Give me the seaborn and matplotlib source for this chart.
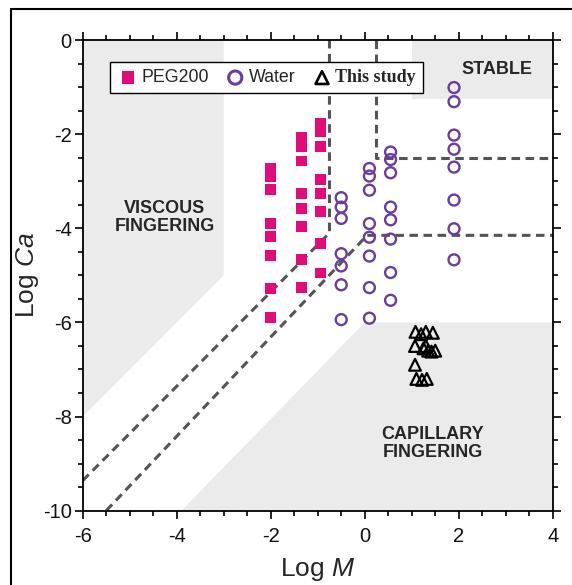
import numpy as np
import pandas as pd
import matplotlib
matplotlib.use("Agg")
import matplotlib.pyplot as plt
import seaborn as sns
from matplotlib.patches import Polygon
from matplotlib.lines import Line2D
from matplotlib.ticker import MultipleLocator

# PEG200 (squares), three columns of log M
peg_x = [-2.0, -2.0, -2.0, -2.0, -2.0, -2.0, -2.0, -2.0,
         -1.35, -1.35, -1.35, -1.35, -1.35, -1.35, -1.35, -1.35,
         -0.95, -0.95, -0.95, -0.95, -0.95, -0.95, -0.95, -0.95]
peg_y = [-2.72, -2.89, -3.17, -3.89, -4.17, -4.57, -5.27, -5.89,
         -2.08, -2.27, -2.57, -3.26, -3.58, -3.96, -4.66, -5.26,
         -1.77, -1.95, -2.26, -2.96, -3.26, -3.65, -4.33, -4.95]

# Water (open circles)
water_x = [-0.5, -0.5, -0.5, -0.5, -0.5, -0.5, -0.5,
           0.1, 0.1, 0.1, 0.1, 0.1, 0.1, 0.1, 0.1,
           0.55, 0.55, 0.55, 0.55, 0.55, 0.55, 0.55, 0.55,
           1.9, 1.9, 1.9, 1.9, 1.9, 1.9, 1.9, 1.9]
water_y = [-3.35, -3.55, -3.79, -4.54, -4.80, -5.20, -5.94,
           -2.73, -2.89, -3.19, -3.90, -4.19, -4.59, -5.26, -5.91,
           -2.38, -2.54, -2.82, -3.55, -3.82, -4.23, -4.94, -5.53,
           -1.01, -1.31, -2.02, -2.32, -2.70, -3.40, -4.01, -4.67]

# This study (open triangles)
study_x = [1.08, 1.2, 1.3, 1.45, 1.07, 1.25, 1.3, 1.35, 1.42, 1.5, 1.07, 1.1, 1.22, 1.32]
study_y = [-6.2, -6.25, -6.2, -6.22, -6.5, -6.55, -6.5, -6.6, -6.62, -6.6, -6.9, -7.2, -7.22, -7.2]

# regime fields
viscous_region = [(-6, 0), (-3, 0), (-3, -5), (-6, -8)]
stable_region = [(1.0, 0), (4, 0), (4, -1.25), (1.0, -1.25)]
capillary_region = [(4, -6), (0, -6), (-3.9, -10), (4, -10)]

# dashed boundaries
bound1_x = [-6, -0.75, -0.75]
bound1_y = [-9.36, -4.1, 0]
bound2_x = [0.24, 0.24, 4]
bound2_y = [0, -2.5, -2.5]
bound3_x = [-5.5, 0.05, 4]
bound3_y = [-10, -4.15, -4.15]

sns.set_theme(style="ticks")
plt.rcParams['font.family'] = ['Liberation Sans', 'DejaVu Sans']
plt.rcParams['axes.unicode_minus'] = False
plt.rcParams['mathtext.fontset'] = 'custom'
plt.rcParams['mathtext.rm'] = 'Liberation Sans'
plt.rcParams['mathtext.it'] = 'Liberation Sans:italic'

pink = '#e30b78'
purple = '#6a3d9e'
gray = '#ebebeb'
dash = '#555555'

fig = plt.figure(figsize=(5.72, 5.85), dpi=100)
ax = fig.add_axes([0.1446, 0.127, 0.8217, 0.8046])

for reg in [viscous_region, stable_region, capillary_region]:
    ax.add_patch(Polygon(reg, closed=True, facecolor=gray, edgecolor='none', zorder=0))

for bx, by in [(bound1_x, bound1_y), (bound2_x, bound2_y), (bound3_x, bound3_y)]:
    ax.plot(bx, by, color=dash, lw=2.2, ls=(0, (2.8, 1.8)), zorder=1)

peg = pd.DataFrame({'M': peg_x, 'Ca': peg_y})
water = pd.DataFrame({'M': water_x, 'Ca': water_y})
study = pd.DataFrame({'M': study_x, 'Ca': study_y})

sns.scatterplot(data=peg, x='M', y='Ca', marker='s', s=62, color=pink,
                edgecolor='none', label='PEG200', ax=ax, zorder=3)
sns.scatterplot(data=water, x='M', y='Ca', marker='o', s=62, fc='none',
                ec=purple, linewidth=1.7, label='Water', ax=ax, zorder=3)
sns.scatterplot(data=study, x='M', y='Ca', marker='^', s=72, fc='none',
                ec='black', linewidth=1.6, label='This study', ax=ax, zorder=4)

ax.text(-4.25, -3.77, 'VISCOUS\nFINGERING', ha='center', va='center',
        fontsize=13, fontweight='bold', linespacing=1.05)
ax.text(2.82, -0.62, 'STABLE', ha='center', va='center', fontsize=13, fontweight='bold')
ax.text(1.45, -8.57, 'CAPILLARY\nFINGERING', ha='center', va='center',
        fontsize=13, fontweight='bold', linespacing=1.05)

ax.set_xlim(-6, 4)
ax.set_ylim(-10, 0)
ax.xaxis.set_major_locator(MultipleLocator(2))
ax.xaxis.set_minor_locator(MultipleLocator(0.5))
ax.yaxis.set_major_locator(MultipleLocator(2))
ax.yaxis.set_minor_locator(MultipleLocator(0.5))
ax.tick_params(which='both', direction='out', top=True, right=True, color='black', width=1.2)
ax.tick_params(which='major', length=6)
ax.tick_params(which='minor', length=3.5)
ax.tick_params(axis='x', labelsize=14.5, pad=6, labelcolor='#111111')
ax.tick_params(axis='y', labelsize=14.5, pad=2, labelcolor='#111111')
for sp in ax.spines.values():
    sp.set_color('black')
    sp.set_linewidth(1.3)

ax.set_xlabel('Log $\\mathit{M}$', fontsize=19, labelpad=7)
ax.set_ylabel('Log $\\mathit{Ca}$', fontsize=19, labelpad=1)

leg = ax.legend(loc='upper left', bbox_to_anchor=(0.058, 0.953), borderaxespad=0,
                ncol=3, fontsize=12.8, frameon=True, fancybox=False, edgecolor='black',
                handletextpad=0.15, columnspacing=0.9, borderpad=0.4, handlelength=1.2)
leg.get_frame().set_linewidth(1.0)
leg.get_frame().set_alpha(1)
txt = leg.get_texts()[2]
txt.set_fontfamily('Liberation Serif')
txt.set_fontweight('bold')
txt.set_fontsize(13)
handles = leg.legend_handles
handles[0].set_sizes([80])
handles[1].set_sizes([90])
handles[1].set_linewidth(2.2)
handles[2].set_sizes([85])
handles[2].set_linewidth(1.9)
leg.set_zorder(5)

# outer frame of the figure
fig.add_artist(Line2D([11 / 572, 11 / 572], [0, 1 - 9 / 585], color='black', lw=1.5))
fig.add_artist(Line2D([11 / 572, 1], [1 - 9 / 585, 1 - 9 / 585], color='black', lw=1.5))

fig.savefig('out.png', dpi=100)
